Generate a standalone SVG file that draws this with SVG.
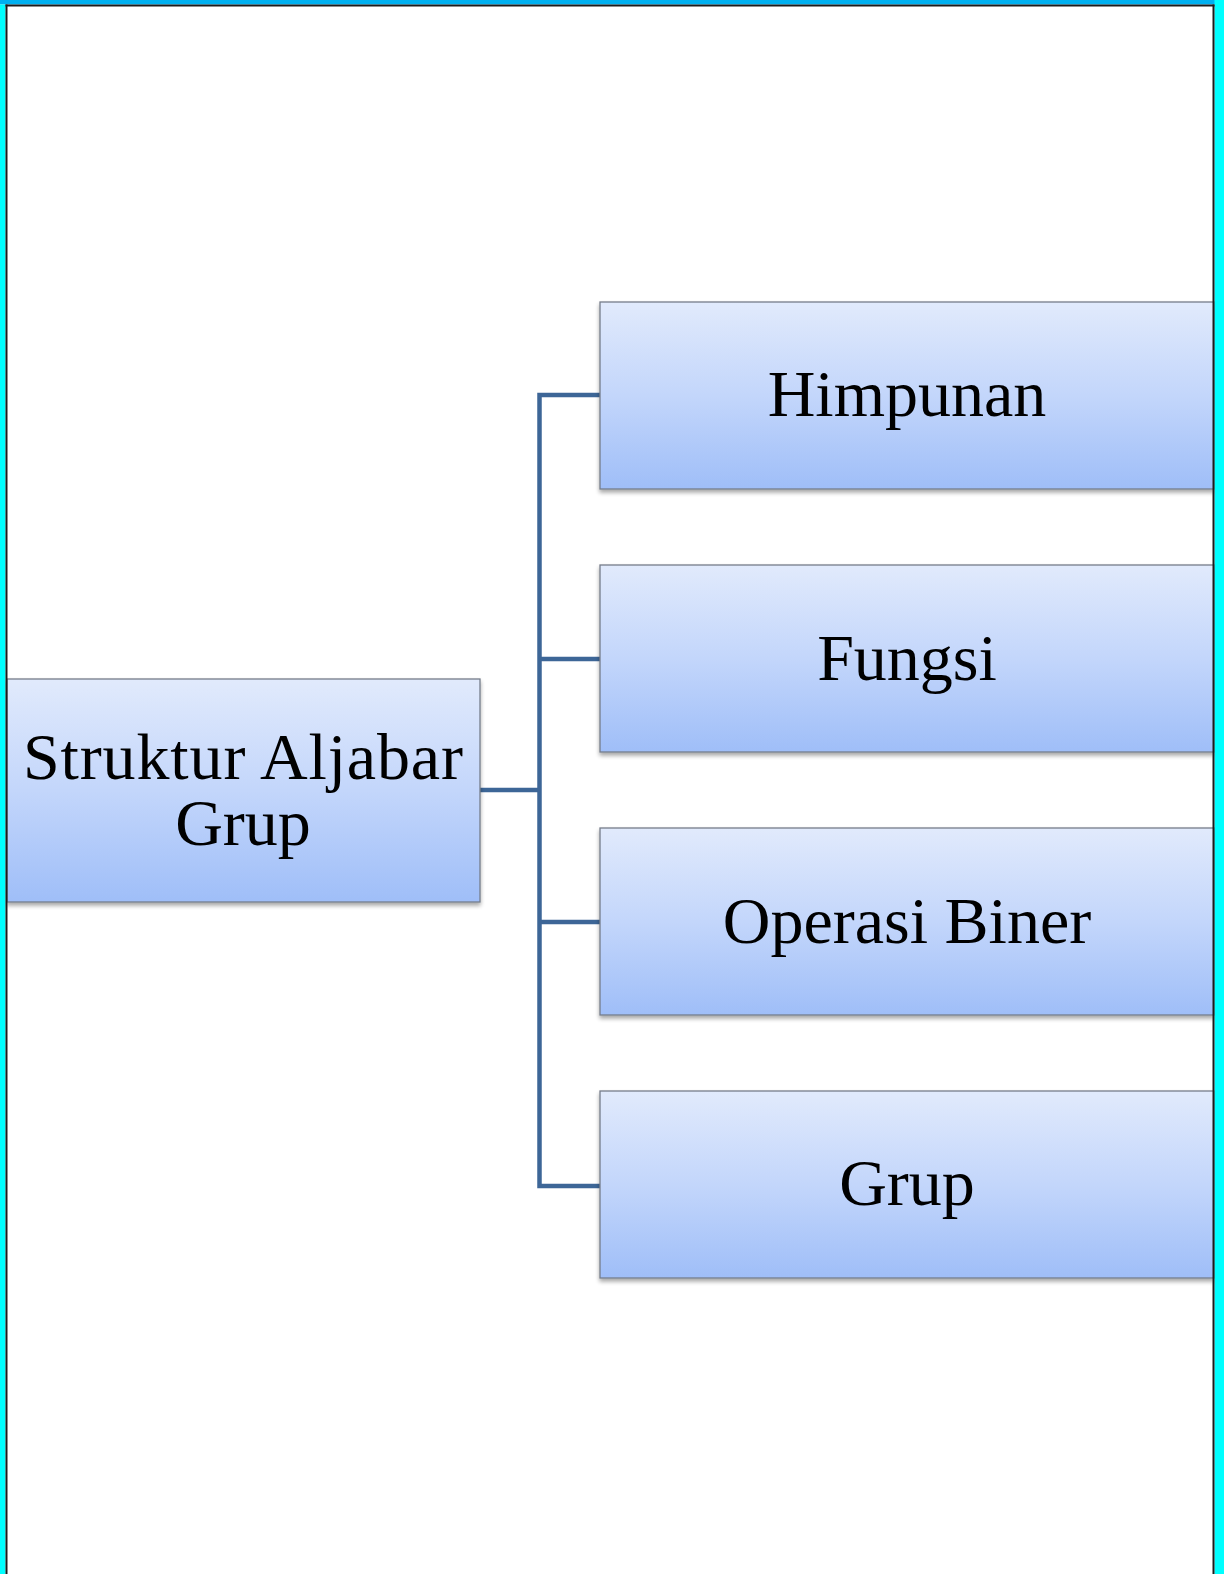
<svg xmlns="http://www.w3.org/2000/svg" width="1224" height="1574" viewBox="0 0 1224 1574">
  <defs>
    <linearGradient id="boxGrad" x1="0" y1="0" x2="0" y2="1">
      <stop offset="0" stop-color="#e1eafc"/>
      <stop offset="0.5" stop-color="#c3d6fb"/>
      <stop offset="1" stop-color="#9fbef8"/>
    </linearGradient>
    <filter id="shadow" x="-5%" y="-5%" width="110%" height="115%">
      <feGaussianBlur in="SourceAlpha" stdDeviation="2"/>
      <feOffset dx="0" dy="3" result="b"/>
      <feComponentTransfer><feFuncA type="linear" slope="0.35"/></feComponentTransfer>
      <feMerge><feMergeNode/><feMergeNode in="SourceGraphic"/></feMerge>
    </filter>
  </defs>
  <style>
    .box { fill: url(#boxGrad); stroke: #767d8a; stroke-width: 1.3; filter: url(#shadow); }
    .lbl { font-family: "Liberation Serif", "DejaVu Serif", serif; font-size: 66px; fill: #000; text-anchor: middle; }
    .conn { fill: none; stroke: #3d6697; stroke-width: 4.5; stroke-linejoin: miter; }
  </style>
  <rect x="0" y="0" width="1224" height="1574" fill="#ffffff"/>

  <g id="connectors">
    <line class="conn" x1="480" y1="790" x2="539.5" y2="790"/>
    <polyline class="conn" points="600,395 539.5,395 539.5,1186 600,1186"/>
    <line class="conn" x1="539.5" y1="659" x2="600" y2="659"/>
    <line class="conn" x1="539.5" y1="922" x2="600" y2="922"/>
  </g>

  <g id="node-root">
    <rect class="box" x="7" y="679" width="473" height="223"/>
    <text class="lbl" x="243" y="779" textLength="440" lengthAdjust="spacing">Struktur Aljabar</text>
    <text class="lbl" x="243" y="845">Grup</text>
  </g>
  <g id="node-himpunan">
    <rect class="box" x="600" y="302" width="614" height="187"/>
    <text class="lbl" x="907" y="416">Himpunan</text>
  </g>
  <g id="node-fungsi">
    <rect class="box" x="600" y="565" width="614" height="187"/>
    <text class="lbl" x="907" y="680">Fungsi</text>
  </g>
  <g id="node-operasi">
    <rect class="box" x="600" y="828" width="614" height="187"/>
    <text class="lbl" x="907" y="943">Operasi Biner</text>
  </g>
  <g id="node-grup">
    <rect class="box" x="600" y="1091" width="614" height="187"/>
    <text class="lbl" x="907" y="1205">Grup</text>
  </g>

  <g id="frame">
    <rect x="0" y="0" width="1224" height="4.5" fill="#00b0f0"/>
    <rect x="0" y="4.5" width="5.5" height="1570" fill="#00ffff"/>
    <rect x="1214.5" y="0" width="9.5" height="1574" fill="#00ffff"/>
    <rect x="5.5" y="4.5" width="1209" height="2" fill="#1c1c1c"/>
    <rect x="5.5" y="4.5" width="2" height="1570" fill="#1c1c1c"/>
    <rect x="1212.5" y="4.5" width="2" height="1570" fill="#1c1c1c"/>
  </g>
</svg>
